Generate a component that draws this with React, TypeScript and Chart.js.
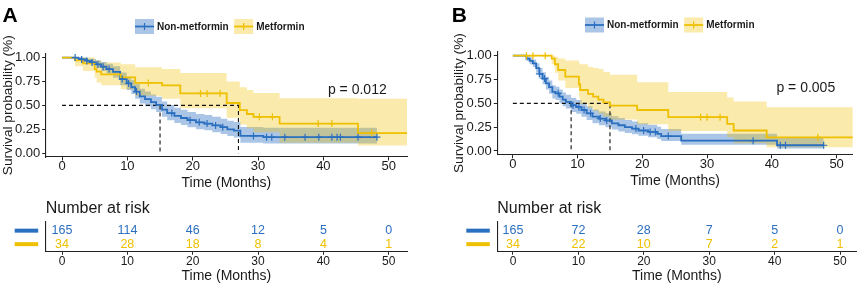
import React, { useEffect, useRef } from 'react';
import { Chart, registerables } from 'chart.js';

Chart.register(...registerables);

const FONT = "'Liberation Sans', Arial, Helvetica, sans-serif";
Chart.defaults.font.family = FONT;

const BLUE = '#2B6FC0';
const YELLOW = '#EFC000';
const BLUE_BAND = 'rgba(43,111,192,0.40)';
const YELLOW_BAND = 'rgba(239,192,0,0.33)';
const INK = '#1a1a1a';

const groupLabels = ['Non-metformin', 'Metformin'];
const timeTicks = [0, 10, 20, 30, 40, 50];
const survTicks = [0, 0.25, 0.5, 0.75, 1];
const riskTimes = [0, 10, 20, 30, 40, 50];

// ---------------- Panel A ----------------
const aNonTime = [0, 2.5, 3, 3.8, 4.5, 5.2, 6, 6.8, 7.8, 8.9, 9.9, 10.6, 11.2, 11.9, 12.7, 13.6, 14.4, 15.3, 16.1, 17.2, 18.2, 19.2, 20.5, 21.8, 23, 24.3, 25.3, 26.3, 27.3, 30.8, 48.2];
const aNonSurv = [1, 0.99, 0.98, 0.965, 0.95, 0.93, 0.905, 0.88, 0.85, 0.775, 0.73, 0.69, 0.645, 0.595, 0.565, 0.535, 0.505, 0.455, 0.42, 0.39, 0.368, 0.345, 0.323, 0.31, 0.29, 0.272, 0.25, 0.235, 0.18, 0.167, 0.167];
const aNonLower = [1, 0.975, 0.96, 0.94, 0.92, 0.89, 0.86, 0.83, 0.79, 0.71, 0.66, 0.62, 0.57, 0.52, 0.49, 0.46, 0.43, 0.38, 0.345, 0.315, 0.295, 0.27, 0.25, 0.24, 0.22, 0.2, 0.18, 0.165, 0.11, 0.1, 0.1];
const aNonUpper = [1, 1, 1, 0.99, 0.985, 0.97, 0.955, 0.935, 0.91, 0.845, 0.8, 0.765, 0.725, 0.675, 0.645, 0.615, 0.59, 0.54, 0.505, 0.475, 0.455, 0.43, 0.41, 0.4, 0.38, 0.36, 0.34, 0.325, 0.275, 0.265, 0.265];
const aNonCensor = [2, 3, 3.8, 4.6, 5.5, 6.3, 7.2, 9.2, 10.2, 11.4, 16.8, 19.6, 21, 22.2, 23.5, 24.6, 29.3, 31.3, 32.1, 34.1, 37.2, 39.3, 41.3, 42.1, 42.6, 45.3, 48.2];

const aMetTime = [0, 2, 3.2, 5, 5.3, 6, 9, 11.2, 15.3, 18.1, 25.2, 27.2, 28.3, 29.3, 33.3, 45.3, 52.8];
const aMetSurv = [1, 0.97, 0.94, 0.88, 0.853, 0.824, 0.794, 0.735, 0.71, 0.625, 0.525, 0.45, 0.41, 0.38, 0.31, 0.21, 0.21];
const aMetLower = [1, 0.91, 0.86, 0.79, 0.74, 0.71, 0.67, 0.6, 0.57, 0.47, 0.37, 0.3, 0.26, 0.22, 0.11, 0.08, 0.08];
const aMetUpper = [1, 1, 1, 0.98, 0.97, 0.95, 0.93, 0.9, 0.88, 0.84, 0.75, 0.69, 0.66, 0.63, 0.575, 0.57, 0.57];
const aMetCensor = [13.2, 21.2, 22.2, 24.2, 30.2, 32.2, 39.2, 41.3, 47.4];

const aMedians = [15, 27];
const aPValue = 'p = 0.012';
const aRiskNon = [165, 114, 46, 12, 5, 0];
const aRiskMet = [34, 28, 18, 8, 4, 1];

// ---------------- Panel B ----------------
const bNonTime = [0, 2.1, 2.6, 3.1, 3.6, 4.1, 4.6, 5.1, 5.6, 6.1, 6.6, 7.2, 7.7, 8.2, 9.0, 9.8, 10.6, 11.4, 12.3, 13.3, 14.3, 15.3, 16.3, 17.3, 18.4, 19.4, 20.9, 22.3, 22.9, 26, 40.8, 48];
const bNonSurv = [1, 0.97, 0.945, 0.92, 0.87, 0.81, 0.76, 0.71, 0.67, 0.62, 0.605, 0.57, 0.54, 0.515, 0.48, 0.46, 0.43, 0.395, 0.36, 0.34, 0.32, 0.29, 0.27, 0.25, 0.235, 0.215, 0.2, 0.18, 0.157, 0.108, 0.06, 0.06];
const bNonLower = [1, 0.945, 0.91, 0.88, 0.82, 0.755, 0.7, 0.645, 0.6, 0.55, 0.535, 0.5, 0.47, 0.445, 0.41, 0.39, 0.36, 0.325, 0.29, 0.27, 0.25, 0.225, 0.205, 0.19, 0.175, 0.16, 0.145, 0.125, 0.105, 0.065, 0.025, 0.025];
const bNonUpper = [1, 0.995, 0.98, 0.96, 0.92, 0.87, 0.825, 0.78, 0.74, 0.69, 0.675, 0.645, 0.615, 0.59, 0.555, 0.535, 0.505, 0.47, 0.435, 0.415, 0.395, 0.365, 0.345, 0.325, 0.31, 0.29, 0.275, 0.255, 0.23, 0.18, 0.14, 0.14];
const bNonCensor = [4.1, 4.9, 7.0, 9.3, 10.2, 11, 12, 13.5, 14.5, 19, 20.2, 21.2, 22, 24, 37.1, 41.3, 42.1, 48];

const bMetTime = [0, 6.0, 6.5, 7.0, 8.1, 10.2, 10.4, 11.6, 12.4, 13.2, 14, 15, 19.2, 24, 33.1, 34.1, 39.2, 52.8];
const bMetSurv = [1, 0.97, 0.91, 0.85, 0.78, 0.7, 0.64, 0.6, 0.57, 0.54, 0.51, 0.475, 0.43, 0.355, 0.285, 0.215, 0.143, 0.143];
const bMetLower = [1, 0.91, 0.82, 0.74, 0.66, 0.56, 0.49, 0.45, 0.42, 0.39, 0.36, 0.33, 0.28, 0.21, 0.145, 0.08, 0.04, 0.04];
const bMetUpper = [1, 1, 0.99, 0.97, 0.95, 0.92, 0.91, 0.88, 0.87, 0.86, 0.83, 0.8, 0.72, 0.62, 0.56, 0.52, 0.46, 0.46];
const bMetCensor = [2.1, 3.1, 5.0, 29, 30, 32, 47.1];

const bMedians = [9, 15];
const bPValue = 'p = 0.005';
const bRiskNon = [165, 72, 28, 7, 5, 0];
const bRiskMet = [34, 22, 10, 7, 2, 1];

const pValuePos = [40.7, 0.66];

type Curve = { time: number[]; surv: number[]; lower: number[]; upper: number[]; censor: number[] };

type Frame = {
  padLeft: number; padTop: number; padRight: number; padBottom: number;
  yAxisW: number; xAxisH: number; xMin: number; xMax: number;
  letter: string; letterX: number; legendX: number; legendY: number;
};

function stepAt(c: Curve, t: number) {
  let v = c.surv[0];
  for (let i = 0; i < c.time.length; i++) if (c.time[i] <= t) v = c.surv[i];
  return v;
}

const pts = (xs: number[], ys: number[]) => xs.map((x, i) => ({ x, y: ys[i] }));

const NONE = 'rgba(0,0,0,0)';

function axisCommon() {
  return {
    grid: { drawOnChartArea: false, drawTicks: true, tickLength: 3.5, color: '#222', lineWidth: 1 },
    border: { display: true, color: '#222', width: 1.1 },
  };
}

function kmConfig(non: Curve, met: Curve, medians: number[], pText: string, f: Frame): any {
  const hi = Math.max(...medians);
  const lo = Math.min(...medians);
  const medianPts = [
    { x: 0, y: 0.5 }, { x: hi, y: 0.5 }, { x: hi, y: 0 },
    { x: hi, y: null },
    { x: lo, y: 0.5 }, { x: lo, y: 0 },
  ];
  const band = (data: any[], color: string, fillTarget: number | false) => ({
    data, stepped: 'before', borderColor: NONE, borderWidth: 0, pointRadius: 0,
    backgroundColor: color, fill: fillTarget === false ? false : fillTarget,
  });
  const datasets: any[] = [
    { label: 'met-censor', data: met.censor.map(t => ({ x: t, y: stepAt(met, t) })), showLine: false,
      pointStyle: 'cross', pointRadius: 3.5, pointBorderWidth: 1.2, pointBorderColor: YELLOW, pointBackgroundColor: YELLOW },
    { label: 'non-censor', data: non.censor.map(t => ({ x: t, y: stepAt(non, t) })), showLine: false,
      pointStyle: 'cross', pointRadius: 3.5, pointBorderWidth: 1.2, pointBorderColor: BLUE, pointBackgroundColor: BLUE },
    { label: groupLabels[1], data: pts(met.time, met.surv), stepped: 'before', borderColor: YELLOW, borderWidth: 1.8, pointRadius: 0, fill: false },
    { label: groupLabels[0], data: pts(non.time, non.surv), stepped: 'before', borderColor: BLUE, borderWidth: 1.8, pointRadius: 0, fill: false },
    { label: 'median', data: medianPts, borderColor: '#111', borderWidth: 1.1, borderDash: [4, 3], pointRadius: 0, fill: false, spanGaps: false },
    band(pts(met.time, met.upper), YELLOW_BAND, 6),
    band(pts(met.time, met.lower), NONE, false),
    band(pts(non.time, non.upper), BLUE_BAND, 8),
    band(pts(non.time, non.lower), NONE, false),
  ];

  const extras = {
    id: 'kmExtras',
    afterDraw(chart: any) {
      const ctx = chart.ctx;
      ctx.save();
      ctx.fillStyle = '#000';
      ctx.font = `bold 21px ${FONT}`;
      ctx.textAlign = 'left';
      ctx.textBaseline = 'alphabetic';
      ctx.fillText(f.letter, f.letterX, 21.7);

      const xs = chart.scales.x;
      const ys = chart.scales.y;
      ctx.font = `14px ${FONT}`;
      ctx.textBaseline = 'middle';
      ctx.fillStyle = INK;
      ctx.fillText(pText, xs.getPixelForValue(pValuePos[0]), ys.getPixelForValue(pValuePos[1]));

      ctx.font = `bold 10px ${FONT}`;
      const keys = [
        { label: groupLabels[0], color: BLUE, band: BLUE_BAND },
        { label: groupLabels[1], color: YELLOW, band: YELLOW_BAND },
      ];
      let x = f.legendX;
      const y = f.legendY;
      for (const k of keys) {
        ctx.fillStyle = k.band;
        ctx.fillRect(x, y - 7.5, 19, 15);
        ctx.strokeStyle = k.color;
        ctx.lineWidth = 1.8;
        ctx.beginPath(); ctx.moveTo(x, y); ctx.lineTo(x + 19, y); ctx.stroke();
        ctx.lineWidth = 1.2;
        ctx.beginPath(); ctx.moveTo(x + 9.5, y - 3.5); ctx.lineTo(x + 9.5, y + 3.5); ctx.stroke();
        ctx.fillStyle = INK;
        ctx.fillText(k.label, x + 22, y + 0.5);
        x += 22 + ctx.measureText(k.label).width + 5.5;
      }
      ctx.restore();
    },
  };

  const ax = axisCommon();
  return {
    type: 'line',
    data: { datasets },
    options: {
      responsive: false,
      animation: false,
      events: [],
      layout: { padding: { left: f.padLeft, top: f.padTop, right: f.padRight, bottom: f.padBottom } },
      plugins: { legend: { display: false }, tooltip: { enabled: false }, title: { display: false } },
      scales: {
        x: {
          type: 'linear', min: f.xMin, max: f.xMax,
          afterBuildTicks: (s: any) => { s.ticks = timeTicks.map(v => ({ value: v })); },
          afterFit: (s: any) => { s.height = f.xAxisH; },
          ticks: { font: { size: 13, lineHeight: 0.9 }, color: INK, padding: 0, maxRotation: 0, autoSkip: false },
          grid: ax.grid, border: ax.border,
          title: { display: true, text: 'Time (Months)', font: { size: 14, lineHeight: 1.05 }, color: INK, padding: 0 },
        },
        y: {
          type: 'linear', min: -0.04, max: 1.045,
          afterBuildTicks: (s: any) => { s.ticks = survTicks.map(v => ({ value: v })); },
          afterFit: (s: any) => { s.width = f.yAxisW; },
          ticks: { font: { size: 13 }, color: INK, padding: 2, callback: (v: any) => Number(v).toFixed(2) },
          grid: ax.grid, border: ax.border,
          title: { display: true, text: 'Survival probability (%)', font: { size: 13.7, lineHeight: 1.2 }, color: INK, padding: 0 },
        },
      },
    },
    plugins: [extras],
  };
}

type RiskFrame = { chartLeft: number; padRight: number; xMin: number; xMax: number };

function riskConfig(nonCounts: number[], metCounts: number[], f: RiskFrame): any {
  const counts = [nonCounts, metCounts];
  const colors = [BLUE, YELLOW];
  const rows = [1, 0];
  const datasets = counts.map((c, di) => ({
    label: groupLabels[di],
    data: riskTimes.map(t => ({ x: t, y: rows[di] })),
    pointRadius: 0,
    showLine: false,
  }));
  const riskText = {
    id: 'riskText',
    afterDatasetsDraw(chart: any) {
      const ctx = chart.ctx;
      const area = chart.chartArea;
      ctx.save();
      ctx.font = `12.5px ${FONT}`;
      ctx.textAlign = 'center';
      ctx.textBaseline = 'middle';
      counts.forEach((c, di) => {
        const meta = chart.getDatasetMeta(di);
        ctx.fillStyle = colors[di];
        meta.data.forEach((pt: any, i: number) => ctx.fillText(String(c[i]), pt.x, pt.y));
        const y = meta.data[0].y;
        ctx.strokeStyle = colors[di];
        ctx.lineWidth = 4;
        ctx.lineCap = 'butt';
        ctx.beginPath();
        ctx.moveTo(area.left - 31, y);
        ctx.lineTo(area.left - 7.5, y);
        ctx.stroke();
      });
      ctx.restore();
    },
  };
  const ax = axisCommon();
  return {
    type: 'scatter',
    data: { datasets },
    options: {
      responsive: false,
      animation: false,
      events: [],
      layout: { padding: { left: f.chartLeft, top: 0, right: f.padRight, bottom: 2.5 } },
      plugins: {
        legend: { display: false },
        tooltip: { enabled: false },
        title: {
          display: true, text: 'Number at risk', align: 'start', color: INK,
          font: { size: 16, weight: 'normal', lineHeight: 1.2 }, padding: { top: 8.7, bottom: 3.3 },
        },
      },
      scales: {
        x: {
          type: 'linear', min: f.xMin, max: f.xMax,
          afterBuildTicks: (s: any) => { s.ticks = timeTicks.map(v => ({ value: v })); },
          afterFit: (s: any) => { s.height = 32.3; },
          ticks: { font: { size: 12, lineHeight: 0.9 }, color: INK, padding: 1.4, maxRotation: 0, autoSkip: false },
          grid: ax.grid, border: ax.border,
          title: { display: true, text: 'Time (Months)', font: { size: 14, lineHeight: 1.05 }, color: INK, padding: 0 },
        },
        y: {
          type: 'linear', min: -0.52, max: 1.7,
          afterFit: (s: any) => { s.width = 0; },
          ticks: { display: false },
          grid: { display: false, drawTicks: false },
          border: ax.border,
        },
      },
    },
    plugins: [riskText],
  };
}

const curveANon: Curve = { time: aNonTime, surv: aNonSurv, lower: aNonLower, upper: aNonUpper, censor: aNonCensor };
const curveAMet: Curve = { time: aMetTime, surv: aMetSurv, lower: aMetLower, upper: aMetUpper, censor: aMetCensor };
const curveBNon: Curve = { time: bNonTime, surv: bNonSurv, lower: bNonLower, upper: bNonUpper, censor: bNonCensor };
const curveBMet: Curve = { time: bMetTime, surv: bMetSurv, lower: bMetLower, upper: bMetUpper, censor: bMetCensor };

const frameA: Frame = { padLeft: 0, padTop: 53.3, padRight: 23, padBottom: 0, yAxisW: 45.7, xAxisH: 33, xMin: -2.5, xMax: 52.8, letter: 'A', letterX: 2.5, legendX: 135, legendY: 26.5 };
const frameB: Frame = { padLeft: 21, padTop: 51.4, padRight: 1.6, padBottom: 2, yAxisW: 46.3, xAxisH: 33.2, xMin: -2.4, xMax: 52.5, letter: 'B', letterX: 21.7, legendX: 155, legendY: 25 };

function ChartBox(props: { left: number; top: number; width: number; height: number; make: () => any }) {
  const ref = useRef<HTMLCanvasElement>(null);
  useEffect(() => {
    const chart = new Chart(ref.current as HTMLCanvasElement, props.make());
    return () => chart.destroy();
  }, []);
  return (
    <canvas
      ref={ref}
      width={props.width}
      height={props.height}
      style={{ position: 'absolute', left: props.left, top: props.top, width: props.width, height: props.height }}
    />
  );
}

export default function App() {
  return (
    <div style={{ position: 'fixed', left: 0, top: 0, width: 858, height: 286, background: '#fff', overflow: 'hidden' }}>
      <ChartBox left={0} top={190} width={430} height={96} make={() => riskConfig(aRiskNon, aRiskMet, { chartLeft: 45.7, padRight: 23, xMin: -2.5, xMax: 52.8 })} />
      <ChartBox left={430} top={190} width={428} height={96} make={() => riskConfig(bRiskNon, bRiskMet, { chartLeft: 67.3, padRight: 1.6, xMin: -2.4, xMax: 52.5 })} />
      <ChartBox left={0} top={0} width={430} height={190} make={() => kmConfig(curveANon, curveAMet, aMedians, aPValue, frameA)} />
      <ChartBox left={430} top={0} width={428} height={190} make={() => kmConfig(curveBNon, curveBMet, bMedians, bPValue, frameB)} />
    </div>
  );
}
